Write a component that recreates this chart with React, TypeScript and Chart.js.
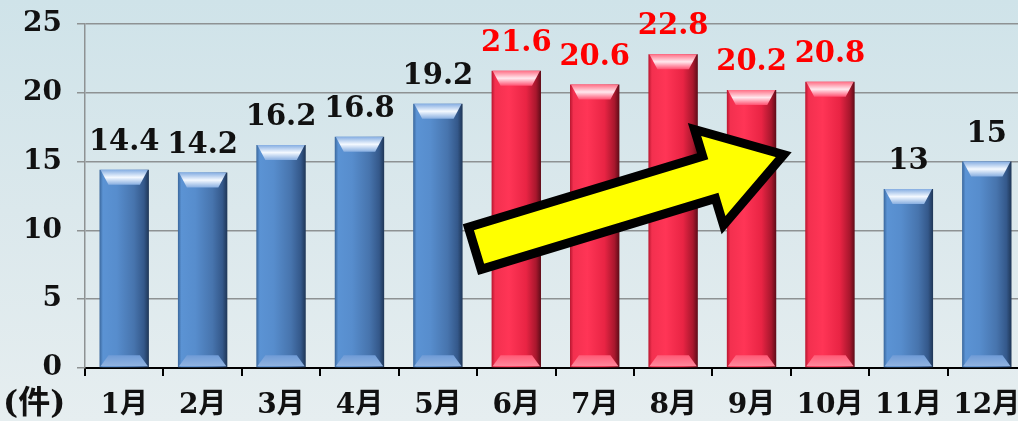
import React, { useEffect, useRef } from "react";
import { Chart, registerables } from "chart.js";

Chart.register(...registerables);

const months = ["1月", "2月", "3月", "4月", "5月", "6月", "7月", "8月", "9月", "10月", "11月", "12月"];
const counts = [14.4, 14.2, 16.2, 16.8, 19.2, 21.6, 20.6, 22.8, 20.2, 20.8, 13, 15];
const highlighted = [false, false, false, false, false, true, true, true, true, true, false, false];
const countLabels = ["14.4", "14.2", "16.2", "16.8", "19.2", "21.6", "20.6", "22.8", "20.2", "20.8", "13", "15"];
const yMin = 0;
const yMax = 25;
const yStep = 5;
const unitLabel = "(件)";
// arrow annotation anchors in data space: [category index, value]
const arrowFrom = [4.47, 8.7];
const arrowTo = [8.41, 15.5];

const FONT = "'DejaVu Serif', 'Noto Sans CJK JP', serif";
const BAR_PCT = 0.63;

function barGradient(ctx: any) {
  const chart = ctx.chart;
  const hi = highlighted[ctx.dataIndex];
  const solid = hi ? "#f02848" : "#4f81bd";
  const xs = chart.scales && chart.scales.x;
  if (!xs || !chart.chartArea || ctx.dataIndex == null) return solid;
  const cx = xs.getPixelForValue(ctx.dataIndex);
  const w = (xs.width / months.length) * BAR_PCT;
  const g = chart.ctx.createLinearGradient(cx - w / 2, 0, cx + w / 2, 0);
  if (hi) {
    g.addColorStop(0, "#b8162f");
    g.addColorStop(0.07, "#f3304f");
    g.addColorStop(0.35, "#ff3556");
    g.addColorStop(0.7, "#e92444");
    g.addColorStop(0.9, "#a8172d");
    g.addColorStop(1, "#5e0c18");
  } else {
    g.addColorStop(0, "#3a679c");
    g.addColorStop(0.07, "#5b93d4");
    g.addColorStop(0.35, "#578dcd");
    g.addColorStop(0.7, "#4774ad");
    g.addColorStop(0.9, "#34588a");
    g.addColorStop(1, "#1f3656");
  }
  return g;
}

const decorPlugin = {
  id: "decor",
  afterDatasetsDraw(chart: any) {
    const ctx = chart.ctx;
    const meta = chart.getDatasetMeta(0);
    meta.data.forEach((bar: any, i: number) => {
      const hi = highlighted[i];
      const x0 = bar.x - bar.width / 2;
      const x1 = bar.x + bar.width / 2;
      const top = bar.y;
      const base = bar.base;
      const inset = 9;
      const th = 15;
      ctx.save();
      const tg = ctx.createLinearGradient(0, top, 0, top + th);
      if (hi) {
        tg.addColorStop(0, "#ff6f86");
        tg.addColorStop(0.5, "#ffe8ee");
        tg.addColorStop(1, "#ff5070");
      } else {
        tg.addColorStop(0, "#86aee2");
        tg.addColorStop(0.5, "#f4f9ff");
        tg.addColorStop(1, "#86ade0");
      }
      ctx.beginPath();
      ctx.moveTo(x0 + 1, top);
      ctx.lineTo(x1 - 1, top);
      ctx.lineTo(x1 - inset, top + th);
      ctx.lineTo(x0 + inset, top + th);
      ctx.closePath();
      ctx.fillStyle = tg;
      ctx.fill();
      const bh = 12;
      const bg = ctx.createLinearGradient(0, base - bh, 0, base);
      if (hi) {
        bg.addColorStop(0, "#ff5a76");
        bg.addColorStop(1, "#ff8da0");
      } else {
        bg.addColorStop(0, "#6f9bd6");
        bg.addColorStop(1, "#94b6e2");
      }
      ctx.beginPath();
      ctx.moveTo(x0 + inset, base - bh);
      ctx.lineTo(x1 - inset, base - bh);
      ctx.lineTo(x1 - 1, base - 1);
      ctx.lineTo(x0 + 1, base - 1);
      ctx.closePath();
      ctx.fillStyle = bg;
      ctx.fill();
      ctx.font = "bold 29px " + FONT;
      ctx.fillStyle = hi ? "#ff0000" : "#111111";
      ctx.textAlign = "center";
      ctx.textBaseline = "alphabetic";
      ctx.fillText(countLabels[i], bar.x, top - 20);
      ctx.restore();
    });

    const xs = chart.scales.x;
    const ys = chart.scales.y;
    const ax = xs.getPixelForValue(arrowFrom[0]);
    const ay = ys.getPixelForValue(arrowFrom[1]);
    const bx = xs.getPixelForValue(arrowTo[0]);
    const by = ys.getPixelForValue(arrowTo[1]);
    const dx = bx - ax;
    const dy = by - ay;
    const len = Math.hypot(dx, dy);
    const ux = dx / len;
    const uy = dy / len;
    const nx = -uy;
    const ny = ux;
    const sw = 22;
    const hw = 50;
    const hl = 78;
    const hx = bx - ux * hl;
    const hy = by - uy * hl;
    ctx.save();
    ctx.beginPath();
    ctx.moveTo(ax + nx * sw, ay + ny * sw);
    ctx.lineTo(hx + nx * sw, hy + ny * sw);
    ctx.lineTo(hx + nx * hw, hy + ny * hw);
    ctx.lineTo(bx, by);
    ctx.lineTo(hx - nx * hw, hy - ny * hw);
    ctx.lineTo(hx - nx * sw, hy - ny * sw);
    ctx.lineTo(ax - nx * sw, ay - ny * sw);
    ctx.closePath();
    ctx.fillStyle = "#ffff00";
    ctx.fill();
    ctx.lineWidth = 9;
    ctx.lineJoin = "miter";
    ctx.miterLimit = 10;
    ctx.strokeStyle = "#000000";
    ctx.stroke();
    ctx.restore();
  },
  afterDraw(chart: any) {
    const ctx = chart.ctx;
    ctx.save();
    ctx.font = "bold 32px " + FONT;
    ctx.fillStyle = "#111111";
    ctx.textAlign = "left";
    ctx.textBaseline = "middle";
    ctx.fillText(unitLabel, 3, 405);
    ctx.restore();
  },
};

export default function App() {
  const ref = useRef<HTMLCanvasElement | null>(null);
  useEffect(() => {
    if (!ref.current) return;
    const chart = new Chart(ref.current, {
      type: "bar",
      data: {
        labels: months,
        datasets: [
          {
            data: counts,
            backgroundColor: barGradient as any,
            borderWidth: 0,
            barPercentage: BAR_PCT,
            categoryPercentage: 1,
          },
        ],
      },
      options: {
        animation: false,
        responsive: false,
        devicePixelRatio: 1,
        layout: { padding: { top: 24, left: 0, right: 0, bottom: 0 } },
        plugins: { legend: { display: false }, tooltip: { enabled: false } },
        scales: {
          x: {
            grid: {
              display: true,
              drawOnChartArea: false,
              drawTicks: true,
              tickLength: 8,
              color: "#000000",
              lineWidth: 2,
            },
            border: { display: true, color: "#000000", width: 2 },
            ticks: {
              color: "#111111",
              font: { family: FONT, size: 28, weight: "bold" },
              padding: 13,
              maxRotation: 0,
              autoSkip: false,
            },
            afterFit: (s: any) => {
              s.height = 53;
              s.paddingLeft = 0;
              s.paddingRight = 0;
            },
          },
          y: {
            min: yMin,
            max: yMax,
            grid: { color: "#8e9293", lineWidth: 1.5, tickLength: 8 },
            border: { display: true, color: "#8e9293", width: 1.5 },
            ticks: {
              stepSize: yStep,
              color: "#111111",
              font: { family: FONT, size: 28, weight: "bold" },
              padding: 15,
            },
            afterFit: (s: any) => {
              s.width = 85;
              s.paddingTop = 0;
              s.paddingBottom = 0;
            },
          },
        },
      },
      plugins: [decorPlugin],
    });
    return () => chart.destroy();
  }, []);
  return (
    <div
      style={{
        position: "fixed",
        left: 0,
        top: 0,
        width: 1018,
        height: 421,
        overflow: "hidden",
        background: "linear-gradient(180deg, #cfe3e9 0%, #dbe8ec 50%, #e6eef0 100%)",
      }}
    >
      <canvas ref={ref} width={1026} height={421} style={{ display: "block" }} />
    </div>
  );
}
